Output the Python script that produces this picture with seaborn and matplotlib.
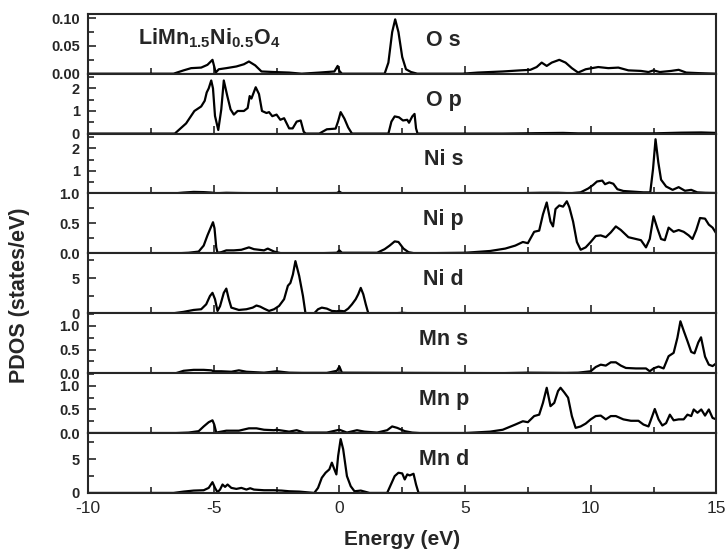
import numpy as np
import pandas as pd
import matplotlib
matplotlib.use("Agg")
import matplotlib.pyplot as plt
from matplotlib.ticker import MultipleLocator
import seaborn as sns

# (energy in eV, PDOS in states/eV)
os_pts = [(-10, 0), (-6.6, 0), (-6.2, 0.006), (-5.9, 0.01), (-5.5, 0.011), (-5.25, 0.016),
          (-5.05, 0.025), (-4.92, 0.002), (-4.8, 0.008), (-4.5, 0.01), (-4.1, 0.013),
          (-3.8, 0.017), (-3.6, 0.022), (-3.35, 0.015), (-3.1, 0.004), (-2.6, 0.003),
          (-2.0, 0.002), (-1.5, 0.0), (-0.8, 0.002), (-0.5, 0.003), (-0.2, 0.004),
          (-0.07, 0.014), (0.0, 0.005), (0.1, 0.0), (1.8, 0), (1.95, 0.02), (2.1, 0.075),
          (2.22, 0.098), (2.35, 0.075), (2.5, 0.03), (2.65, 0.008), (2.85, 0.003), (3.1, 0),
          (4.9, 0), (5.5, 0.002), (6.5, 0.004), (7.2, 0.006), (7.6, 0.007), (7.85, 0.012),
          (8.05, 0.02), (8.25, 0.014), (8.45, 0.02), (8.75, 0.025), (9.0, 0.02), (9.25, 0.01),
          (9.5, 0.002), (9.8, 0.008), (10.3, 0.012), (10.7, 0.01), (11.1, 0.011), (11.5, 0.006),
          (12.0, 0.005), (12.3, 0.003), (12.5, 0.006), (12.75, 0.003), (13.2, 0.005),
          (13.5, 0.007), (13.8, 0.002), (14.3, 0.001), (15, 0)]

op_pts = [(-10, 0), (-6.55, 0), (-6.1, 0.45), (-5.77, 1.0), (-5.5, 1.2), (-5.36, 1.45),
          (-5.28, 1.82), (-5.2, 2.0), (-5.1, 2.35), (-5.03, 2.0), (-4.95, 0.78), (-4.82, 0.16),
          (-4.7, 1.07), (-4.6, 2.35), (-4.46, 1.66), (-4.33, 1.07), (-4.2, 0.84), (-4.05, 1.0),
          (-3.8, 1.0), (-3.65, 1.13), (-3.57, 1.66), (-3.5, 1.55), (-3.33, 2.05), (-3.2, 1.75),
          (-3.08, 1.0), (-2.9, 0.91), (-2.8, 0.95), (-2.67, 0.77), (-2.5, 0.84), (-2.35, 0.61),
          (-2.2, 0.68), (-2.0, 0.23), (-1.86, 0.23), (-1.7, 0.53), (-1.54, 0.58), (-1.42, 0.08),
          (-1.34, 0), (-0.8, 0), (-0.5, 0.19), (-0.15, 0.22), (-0.05, 0.55), (0.05, 0.95),
          (0.2, 0.66), (0.35, 0.27), (0.5, 0), (1.95, 0), (2.07, 0.53), (2.2, 0.76), (2.37, 0.72),
          (2.53, 0.58), (2.7, 0.61), (2.77, 0.48), (2.9, 0.76), (2.99, 0.87), (3.05, 0.23),
          (3.11, 0), (6.5, 0), (8.0, 0.02), (8.9, 0.03), (9.5, 0.01), (12.5, 0.01),
          (13.6, 0.04), (14.4, 0.05), (15, 0.03)]

nis_pts = [(-10, 0), (-6.6, 0), (-6.2, 0.04), (-5.8, 0.07), (-5.4, 0.06), (-5.1, 0.04),
           (-4.9, 0.01), (-4.5, 0.03), (-4.0, 0.02), (-3.0, 0.01), (-1.0, 0.01), (-0.1, 0.02),
           (0, 0.08), (0.1, 0.01), (5, 0.0), (7, 0.01), (8, 0.03), (8.7, 0.03), (9.2, 0.01),
           (9.6, 0.05), (9.9, 0.22), (10.1, 0.38), (10.25, 0.53), (10.46, 0.57), (10.57, 0.41),
           (10.74, 0.49), (10.9, 0.43), (11.06, 0.19), (11.3, 0.11), (12.1, 0.05), (12.37, 0.05),
           (12.48, 1.08), (12.58, 2.4), (12.69, 1.38), (12.8, 0.61), (13.0, 0.31), (13.26, 0.16),
           (13.5, 0.28), (13.75, 0.12), (14.0, 0.16), (14.24, 0.05), (14.56, 0.03), (15, 0.02)]

nip_pts = [(-10, 0), (-6.5, 0), (-6.0, 0.01), (-5.6, 0.03), (-5.4, 0.13), (-5.25, 0.3),
           (-5.1, 0.45), (-5.03, 0.52), (-4.97, 0.42), (-4.9, 0.1), (-4.85, 0.01), (-4.7, 0.02),
           (-4.5, 0.05), (-4.2, 0.05), (-3.9, 0.06), (-3.6, 0.1), (-3.4, 0.07), (-3.0, 0.05),
           (-2.85, 0.08), (-2.6, 0.03), (-2.3, 0.0), (-1.0, 0.0), (-0.1, 0.01), (0, 0.05),
           (0.1, 0.01), (1.5, 0.01), (1.8, 0.07), (2.0, 0.13), (2.2, 0.2), (2.35, 0.19),
           (2.55, 0.08), (2.75, 0.02), (3.0, 0), (5.0, 0.01), (6.0, 0.04), (6.6, 0.08),
           (7.0, 0.13), (7.3, 0.19), (7.5, 0.17), (7.75, 0.36), (7.95, 0.38), (8.1, 0.65),
           (8.25, 0.85), (8.4, 0.53), (8.5, 0.45), (8.6, 0.74), (8.75, 0.8), (8.9, 0.78),
           (9.05, 0.87), (9.15, 0.77), (9.3, 0.53), (9.45, 0.19), (9.6, 0.06), (9.8, 0.1),
           (10.0, 0.19), (10.2, 0.29), (10.4, 0.3), (10.6, 0.27), (10.8, 0.35), (11.0, 0.45),
           (11.2, 0.39), (11.5, 0.27), (11.8, 0.24), (12.0, 0.22), (12.2, 0.1), (12.35, 0.24),
           (12.5, 0.62), (12.65, 0.42), (12.8, 0.24), (12.95, 0.22), (13.1, 0.43), (13.3, 0.36),
           (13.5, 0.39), (13.7, 0.36), (13.9, 0.3), (14.05, 0.24), (14.2, 0.39), (14.35, 0.59),
           (14.55, 0.58), (14.7, 0.48), (14.85, 0.43), (15, 0.33)]

nid_pts = [(-10, 0), (-6.6, 0), (-6.2, 0.2), (-5.8, 0.47), (-5.5, 0.57), (-5.3, 1.27),
           (-5.15, 2.45), (-5.05, 2.9), (-4.95, 2.0), (-4.85, 0.33), (-4.75, 1.0), (-4.6, 2.9),
           (-4.5, 3.5), (-4.4, 2.0), (-4.3, 0.8), (-4.0, 0.47), (-3.7, 0.57), (-3.45, 0.8),
           (-3.3, 1.1), (-3.15, 0.94), (-3.0, 0.66), (-2.8, 0.33), (-2.6, 0.57), (-2.4, 1.04),
           (-2.2, 2.0), (-2.05, 3.9), (-1.95, 4.3), (-1.85, 5.5), (-1.75, 7.4), (-1.6, 5.3),
           (-1.45, 2.45), (-1.35, 0), (-1.0, 0), (-0.85, 0.57), (-0.7, 0.8), (-0.5, 0.66),
           (-0.3, 0.33), (-0.1, 0.28), (0, 0.35), (0.2, 0.28), (0.35, 0.66), (0.5, 1.27),
           (0.65, 2.0), (0.75, 2.7), (0.85, 3.6), (0.95, 2.7), (1.05, 1.27), (1.15, 0),
           (2.2, 0), (2.5, 0.06), (2.8, 0), (15, 0)]

mns_pts = [(-10, 0), (-6.5, 0), (-6.2, 0.05), (-5.8, 0.07), (-5.4, 0.07), (-5.1, 0.06),
           (-5.0, 0.04), (-4.7, 0.04), (-4.3, 0.03), (-4.0, 0.06), (-3.7, 0.03), (-3.0, 0.01),
           (-2.5, 0.04), (-2.0, 0.01), (-1.5, 0.005), (-0.5, 0.005), (-0.1, 0.05), (0, 0.14),
           (0.1, 0.01), (6.5, 0.0), (7.5, 0.01), (9.0, 0.005), (9.5, 0.01), (10.0, 0.04),
           (10.2, 0.13), (10.4, 0.18), (10.6, 0.16), (10.8, 0.23), (11.0, 0.23), (11.2, 0.16),
           (11.4, 0.11), (11.8, 0.1), (12.2, 0.1), (12.35, 0.04), (12.5, 0.1), (12.7, 0.14),
           (12.9, 0.1), (13.1, 0.36), (13.3, 0.43), (13.45, 0.75), (13.57, 1.1), (13.7, 0.9),
           (13.85, 0.68), (14.0, 0.45), (14.13, 0.42), (14.28, 0.65), (14.39, 0.76),
           (14.55, 0.35), (14.7, 0.18), (14.85, 0.15), (15, 0.21)]

mnp_pts = [(-10, 0), (-6.5, 0), (-6.0, 0.01), (-5.6, 0.04), (-5.4, 0.14), (-5.2, 0.23),
           (-5.05, 0.27), (-4.98, 0.18), (-4.9, 0.01), (-4.7, 0.03), (-4.5, 0.05), (-4.0, 0.05),
           (-3.6, 0.1), (-3.3, 0.1), (-3.0, 0.07), (-2.6, 0.06), (-2.5, 0.07), (-2.0, 0.03),
           (-1.7, 0.06), (-1.4, 0.01), (-0.5, 0.01), (0, 0.07), (0.3, 0.01), (0.7, 0.06),
           (1.0, 0.03), (1.5, 0.01), (1.9, 0.06), (2.1, 0.14), (2.3, 0.11), (2.6, 0.04),
           (2.9, 0.01), (3.2, 0), (5.0, 0), (6.0, 0.03), (6.5, 0.07), (7.0, 0.18), (7.3, 0.25),
           (7.5, 0.23), (7.75, 0.36), (7.95, 0.39), (8.1, 0.64), (8.25, 0.96), (8.4, 0.57),
           (8.55, 0.64), (8.7, 0.89), (8.8, 0.96), (8.95, 0.86), (9.1, 0.75), (9.25, 0.36),
           (9.4, 0.11), (9.6, 0.14), (9.8, 0.2), (10.0, 0.29), (10.2, 0.36), (10.4, 0.37),
           (10.6, 0.29), (10.8, 0.36), (11.0, 0.36), (11.3, 0.29), (11.6, 0.26), (11.9, 0.26),
           (12.1, 0.18), (12.3, 0.14), (12.45, 0.36), (12.55, 0.51), (12.7, 0.29), (12.85, 0.16),
           (13.0, 0.21), (13.15, 0.39), (13.3, 0.27), (13.5, 0.29), (13.7, 0.29), (13.85, 0.39),
           (14.0, 0.36), (14.1, 0.5), (14.25, 0.43), (14.4, 0.5), (14.55, 0.37), (14.7, 0.5),
           (14.85, 0.32), (15, 0.29)]

mnd_pts = [(-10, 0), (-6.6, 0), (-6.2, 0.2), (-5.8, 0.35), (-5.4, 0.4), (-5.2, 0.75),
           (-5.05, 1.6), (-4.95, 0.75), (-4.85, 0.1), (-4.75, 0.5), (-4.65, 1.25), (-4.55, 0.9),
           (-4.45, 1.25), (-4.3, 0.75), (-4.1, 0.6), (-3.9, 0.75), (-3.7, 0.5), (-3.55, 0.7),
           (-3.4, 0.5), (-3.0, 0.4), (-2.6, 0.4), (-2.3, 0.35), (-2.0, 0.25), (-1.6, 0.2),
           (-1.3, 0.1), (-1.0, 0), (-0.85, 0.75), (-0.7, 2.25), (-0.55, 3.0), (-0.4, 3.5),
           (-0.3, 4.5), (-0.2, 3.5), (-0.12, 2.75), (-0.05, 5.5), (0.05, 8.0), (0.15, 6.5),
           (0.3, 2.5), (0.45, 1.0), (0.6, 0.25), (0.85, 0.35), (1.0, 0.2), (1.2, 0),
           (1.9, 0), (2.05, 1.25), (2.2, 2.5), (2.35, 3.0), (2.5, 2.9), (2.6, 2.0), (2.7, 2.75),
           (2.8, 2.6), (2.95, 2.85), (3.05, 1.25), (3.15, 0), (15, 0)]

panel_names = ["O s", "O p", "Ni s", "Ni p", "Ni d", "Mn s", "Mn p", "Mn d"]
panel_data = [os_pts, op_pts, nis_pts, nip_pts, nid_pts, mns_pts, mnp_pts, mnd_pts]
y_tops = [0.108, 2.65, 2.65, 1.0, 8.5, 1.27, 1.27, 8.9]
y_ticks = [[0, 0.05, 0.10], [0, 1, 2], [1, 2], [0.0, 0.5, 1.0], [0, 5],
           [0.0, 0.5, 1.0], [0.0, 0.5, 1.0], [0, 5]]
y_fmt = ["{:.2f}", "{:.0f}", "{:.0f}", "{:.1f}", "{:.0f}", "{:.1f}", "{:.1f}", "{:.0f}"]
y_minor = [0.025, 0.5, 0.5, 0.25, 2.5, 0.25, 0.25, 2.5]

sns.set_style("ticks")
plt.rcParams['font.family'] = ['Liberation Sans']
plt.rcParams['mathtext.fontset'] = 'custom'
plt.rcParams['mathtext.rm'] = 'Liberation Sans:bold'
plt.rcParams['mathtext.it'] = 'Liberation Sans:bold'
plt.rcParams['mathtext.bf'] = 'Liberation Sans:bold'

fig, axes = plt.subplots(8, 1, sharex=True, figsize=(7.28, 5.52), dpi=100)
fig.subplots_adjust(left=0.121, right=0.984, top=0.975, bottom=0.107, hspace=0)

for i, ax in enumerate(axes):
    df = pd.DataFrame(panel_data[i], columns=["Energy", "PDOS"])
    sns.lineplot(data=df, x="Energy", y="PDOS", ax=ax, color="black",
                 linewidth=1.6, estimator=None, sort=False)
    ax.set_xlim(-10, 15)
    ax.set_ylim(0, y_tops[i])
    ax.set_yticks(y_ticks[i])
    ax.set_yticklabels([y_fmt[i].format(t) for t in y_ticks[i]],
                       fontsize=10.5, fontweight="bold")
    ax.yaxis.set_minor_locator(MultipleLocator(y_minor[i]))
    ax.xaxis.set_major_locator(MultipleLocator(5))
    ax.xaxis.set_minor_locator(MultipleLocator(2.5))
    ax.tick_params(which="both", direction="in", top=False, right=False, width=1.2)
    ax.tick_params(which="major", length=6)
    ax.tick_params(which="minor", length=4)
    ax.tick_params(axis="y", pad=6)
    for sp in ax.spines.values():
        sp.set_linewidth(1.5)
    ax.set_ylabel("")
    ax.set_xlabel("")
    ax.text(0.566, 0.56, panel_names[i], transform=ax.transAxes, ha="center",
            va="center", fontsize=15.5, fontweight="bold")

axes[0].text(0.08, 0.6, r"LiMn$_{\mathrm{1.5}}$Ni$_{\mathrm{0.5}}$O$_{\mathrm{4}}$",
             transform=axes[0].transAxes, ha="left", va="center",
             fontsize=15.5, fontweight="bold")

axes[-1].set_xticks([-10, -5, 0, 5, 10, 15])
axes[-1].set_xticklabels(["-10", "-5", "0", "5", "10", "15"], fontsize=12.5)
axes[-1].tick_params(axis="x", pad=6)
axes[-1].set_xlabel("Energy (eV)", fontsize=15, fontweight="bold", labelpad=10)
fig.text(0.027, 0.465, "PDOS (states/eV)", rotation=90, ha="center", va="center",
         fontsize=15.5, fontweight="bold")

fig.savefig("out.png", dpi=100)
